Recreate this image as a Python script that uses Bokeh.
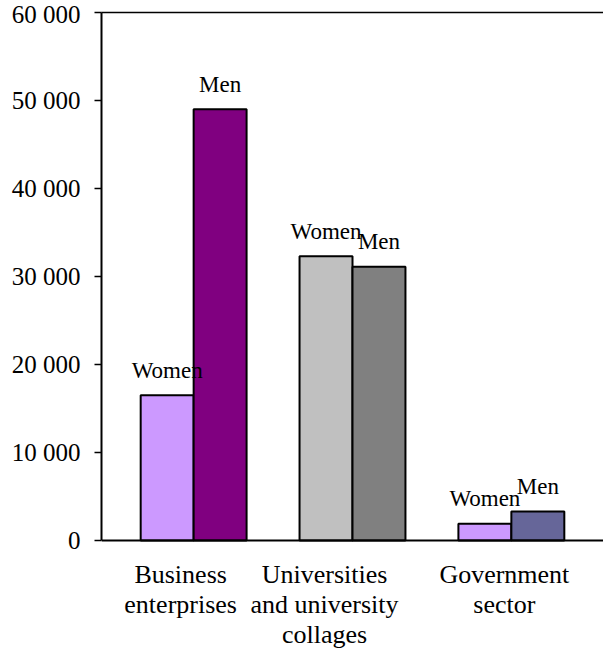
from bokeh.plotting import figure
from bokeh.models import (ColumnDataSource, FactorRange, Range1d, Span,
                          CategoricalAxis, FixedTicker)
from bokeh.transform import dodge
from bokeh.core.properties import value
from bokeh.embed import file_html
from bokeh.resources import INLINE

# R&D personnel by sector and sex
sectors = ["Business enterprises", "Universities and university collages", "Government sector"]
sector_labels = ["Business\nenterprises", "Universities\nand university\ncollages", "Government\nsector"]
women = [16500, 32300, 1900]
men = [49000, 31100, 3300]
women_colors = ["#CC99FF", "#C0C0C0", "#CC99FF"]
men_colors = ["#800080", "#808080", "#666699"]
y_ticks = [0, 10000, 20000, 30000, 40000, 50000, 60000]
y_tick_labels = ["0", "10 000", "20 000", "30 000", "40 000", "50 000", "60 000"]

FONT = "Liberation Serif"
Y_MAX = 60000
# the frame runs below zero so the sector names fit inside it
Y_MIN = -Y_MAX * 108 / 528

src = ColumnDataSource(dict(
    sector=sectors,
    women=women,
    men=men,
    women_color=women_colors,
    men_color=men_colors,
))

p = figure(
    width=603, height=648,
    x_range=FactorRange(factors=sectors, range_padding=0.08, range_padding_units="absolute"),
    y_range=Range1d(Y_MIN, Y_MAX),
    output_backend="svg", toolbar_location=None,
    min_border_left=101, min_border_right=0, min_border_top=12, min_border_bottom=0,
)
p.outline_line_color = None
p.xgrid.visible = False
p.ygrid.visible = False
p.xaxis.visible = False
p.background_fill_color = "white"
p.border_fill_color = "white"

# bars: women on the left, men on the right of each sector
p.vbar(x=dodge("sector", -1/6, range=p.x_range), top="women", bottom=0, width=1/3, source=src,
       fill_color="women_color", line_color="black", line_width=2)
p.vbar(x=dodge("sector", 1/6, range=p.x_range), top="men", bottom=0, width=1/3, source=src,
       fill_color="men_color", line_color="black", line_width=2)

# series names above each bar
p.text(x=dodge("sector", -1/6, range=p.x_range), y="women", text=value("Women"), source=src,
       text_font=value(FONT), text_font_size="23px", text_color="black",
       text_align="center", text_baseline="alphabetic", y_offset=-25)
p.text(x=dodge("sector", 1/6, range=p.x_range), y="men", text=value("Men"), source=src,
       text_font=value(FONT), text_font_size="23px", text_color="black",
       text_align="center", text_baseline="alphabetic", y_offset=-25)

# baseline (x axis line)
p.add_layout(Span(location=0, dimension="width", line_color="black", line_width=2))

# y axis
ya = p.yaxis[0]
ya.bounds = (0, Y_MAX)
ya.ticker = FixedTicker(ticks=y_ticks)
ya.major_label_overrides = {t: s for t, s in zip(y_ticks, y_tick_labels)}
ya.axis_line_width = 2
ya.axis_line_color = "black"
ya.major_tick_line_width = 1.5
ya.major_tick_in = 0
ya.major_tick_out = 7
ya.minor_tick_line_color = None
ya.major_label_text_font = FONT
ya.major_label_text_font_size = "25px"
ya.major_label_text_color = "black"
ya.major_label_standoff = 14

# top border of the plot area
top = CategoricalAxis(axis_line_width=1.5, axis_line_color="black",
                      major_tick_line_color=None, minor_tick_line_color=None,
                      major_label_text_color=None, major_label_text_font_size="1px")
p.add_layout(top, "above")

# sector names under the axis, one text per line, nudged a little left of each group centre
label_dx = [-13, -28, -7]
LINE_STEP = 30
lx, lt, ldx, ldy = [], [], [], []
for i, (name, dx) in enumerate(zip(sector_labels, label_dx)):
    for j, line in enumerate(name.split("\n")):
        lx.append(i + 0.5)
        lt.append(line)
        ldx.append(dx)
        ldy.append(34 + j * LINE_STEP)
p.text(x=lx, y=[0] * len(lx), text=lt, x_offset=ldx, y_offset=ldy,
       text_font=value(FONT), text_font_size="26px", text_color="black",
       text_align="center", text_baseline="alphabetic")

open("out.html", "w").write(file_html(p, INLINE))
